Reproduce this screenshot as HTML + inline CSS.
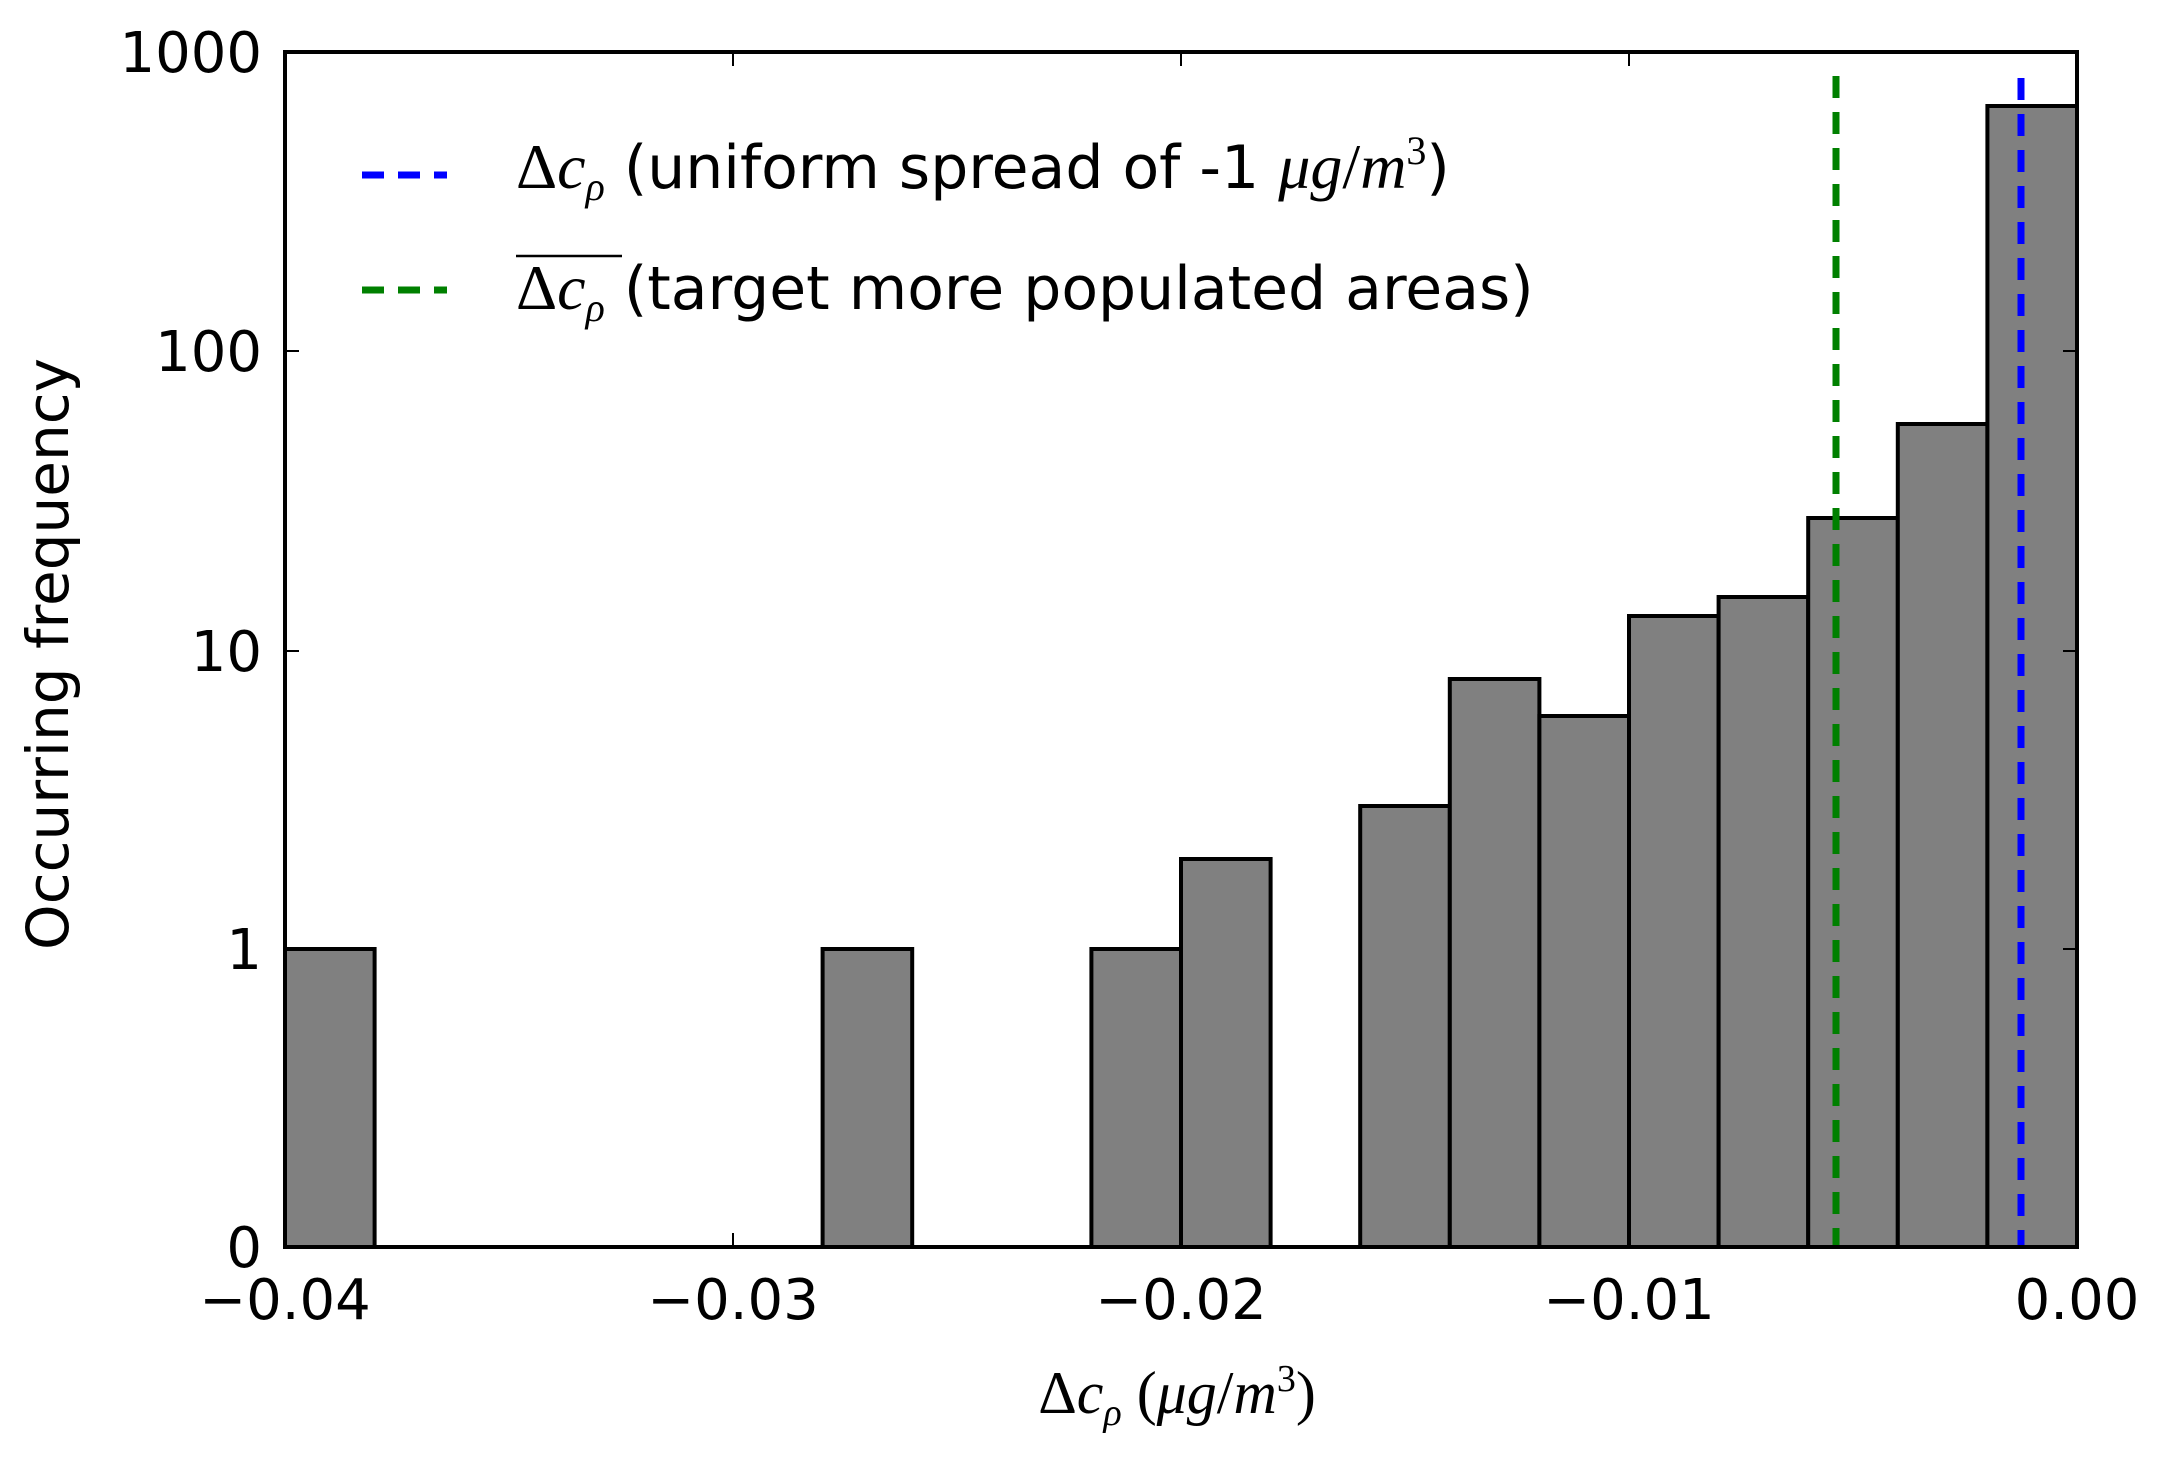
<!DOCTYPE html>
<html><head><style>body{margin:0;background:#fff}svg{display:block}</style></head>
<body>
<svg width="2158" height="1457" viewBox="0 0 2158 1457" xmlns="http://www.w3.org/2000/svg" font-family="'DejaVu Sans', 'Liberation Sans', sans-serif">
<g fill="#808080" stroke="#000" stroke-width="4">
<rect x="285" y="949" width="89.6" height="298"/>
<rect x="822.6" y="949" width="89.6" height="298"/>
<rect x="1091.4" y="949" width="89.6" height="298"/>
<rect x="1181" y="859" width="89.6" height="388"/>
<rect x="1360.2" y="806" width="89.6" height="441"/>
<rect x="1449.8" y="679" width="89.6" height="568"/>
<rect x="1539.4" y="716" width="89.6" height="531"/>
<rect x="1629" y="616" width="89.6" height="631"/>
<rect x="1718.6" y="597" width="89.6" height="650"/>
<rect x="1808.2" y="518" width="89.6" height="729"/>
<rect x="1897.8" y="424" width="89.6" height="823"/>
<rect x="1987.4" y="106" width="89.6" height="1141"/>
</g>
<line x1="1836" y1="76" x2="1836" y2="1247" stroke="#008000" stroke-width="7" stroke-dasharray="22,14"/>
<line x1="2021" y1="78" x2="2021" y2="1247" stroke="#0000ff" stroke-width="7" stroke-dasharray="22,14"/>
<rect x="285" y="52" width="1792" height="1195" fill="none" stroke="#000" stroke-width="4"/>
<g stroke="#000" stroke-width="2">
<line x1="733" y1="1247" x2="733" y2="1233"/><line x1="1181" y1="1247" x2="1181" y2="1233"/><line x1="1629" y1="1247" x2="1629" y2="1233"/>
<line x1="733" y1="52" x2="733" y2="66"/><line x1="1181" y1="52" x2="1181" y2="66"/><line x1="1629" y1="52" x2="1629" y2="66"/>
<line x1="285" y1="351" x2="299" y2="351"/><line x1="285" y1="651" x2="299" y2="651"/><line x1="285" y1="949" x2="299" y2="949"/>
<line x1="2077" y1="351" x2="2063" y2="351"/><line x1="2077" y1="651" x2="2063" y2="651"/><line x1="2077" y1="949" x2="2063" y2="949"/>
</g>
<g font-size="56" fill="#000" text-anchor="end">
<text x="262" y="72">1000</text>
<text x="262" y="371">100</text>
<text x="262" y="671">10</text>
<text x="262" y="969">1</text>
<text x="262" y="1267">0</text>
</g>
<g font-size="56" fill="#000" text-anchor="middle">
<text x="285" y="1319">−0.04</text>
<text x="733" y="1319">−0.03</text>
<text x="1181" y="1319">−0.02</text>
<text x="1629" y="1319">−0.01</text>
<text x="2077" y="1319">0.00</text>
</g>
<text x="0" y="0" font-size="58" text-anchor="middle" transform="translate(68,654) rotate(-90)">Occurring frequency</text>
<text x="1177" y="1413" font-size="60" text-anchor="middle" font-family="'Liberation Serif', serif"><tspan>Δ</tspan><tspan font-style="italic">c</tspan><tspan font-style="italic" font-size="38" dy="12">ρ</tspan><tspan dy="-12"> (</tspan><tspan font-style="italic">μg</tspan>/<tspan font-style="italic">m</tspan><tspan font-size="38" dy="-22">3</tspan><tspan dy="22">)</tspan></text>
<line x1="362" y1="175" x2="447" y2="175" stroke="#0000ff" stroke-width="7" stroke-dasharray="22,14"/>
<line x1="362" y1="290" x2="447" y2="290" stroke="#008000" stroke-width="7" stroke-dasharray="22,14"/>
<text x="516" y="188" font-size="60"><tspan font-family="'Liberation Serif', serif" font-size="64">Δ</tspan><tspan font-family="'Liberation Serif', serif" font-style="italic" font-size="64">c</tspan><tspan font-family="'Liberation Serif', serif" font-style="italic" font-size="40" dy="12">ρ</tspan><tspan dy="-12"> (uniform spread of -1 </tspan><tspan font-family="'Liberation Serif', serif" font-style="italic" font-size="64">μg</tspan><tspan font-family="'Liberation Serif', serif" font-size="64">/</tspan><tspan font-family="'Liberation Serif', serif" font-style="italic" font-size="64">m</tspan><tspan font-size="40" dy="-24" font-family="'Liberation Serif', serif">3</tspan><tspan dy="24">)</tspan></text>
<line x1="516" y1="256" x2="622" y2="256" stroke="#000" stroke-width="2.5"/>
<text x="516" y="309" font-size="60"><tspan font-family="'Liberation Serif', serif" font-size="64">Δ</tspan><tspan font-family="'Liberation Serif', serif" font-style="italic" font-size="64">c</tspan><tspan font-family="'Liberation Serif', serif" font-style="italic" font-size="40" dy="12">ρ</tspan><tspan dy="-12"> (target more populated areas)</tspan></text>
</svg>
</body></html>
